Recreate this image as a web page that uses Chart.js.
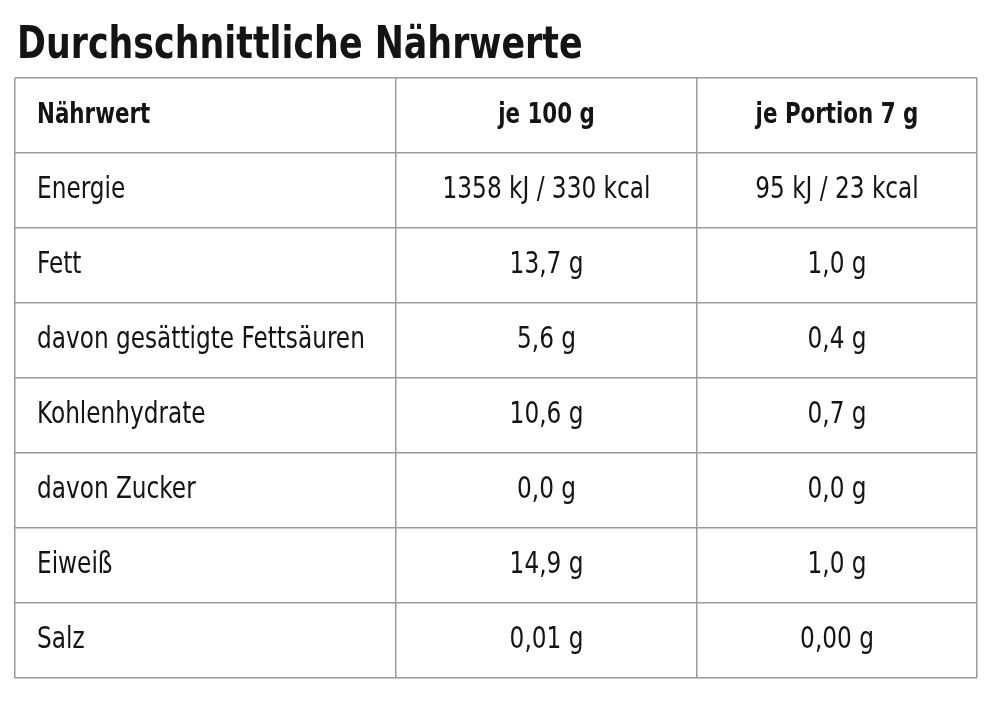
<!DOCTYPE html>
<html><head><meta charset="utf-8">
<script src="https://cdn.jsdelivr.net/npm/chart.js@4/dist/chart.umd.min.js"></script>
<style>html,body{margin:0;background:#fff}#w{width:1000px;height:708px}</style>
</head><body><div id="w"><canvas id="c"></canvas></div>
<script>
const title = "Durchschnittliche Nährwerte";
const headers = ["Nährwert", "je 100 g", "je Portion 7 g"];
const nutrients = ["Energie","Fett","davon gesättigte Fettsäuren","Kohlenhydrate","davon Zucker","Eiweiß","Salz"];
const per100 = ["1358 kJ / 330 kcal","13,7 g","5,6 g","10,6 g","0,0 g","14,9 g","0,01 g"];
const perPortion = ["95 kJ / 23 kcal","1,0 g","0,4 g","0,7 g","0,0 g","1,0 g","0,00 g"];
const colEdges = [0, 381, 682, 962];
const FONT = "'Liberation Sans Narrow','DejaVu Sans Condensed','Roboto Condensed',sans-serif";

const rows = [headers].concat(nutrients.map((n,i)=>[n, per100[i], perPortion[i]]));
const pts = [];
rows.forEach((r,ri)=>r.forEach((t,ci)=>{
  const x = ci===0 ? colEdges[0]+22 : (colEdges[ci]+colEdges[ci+1])/2;
  pts.push({x, y: ri+0.5, t, ci, bold: ri===0});
}));

function squeezed(ctx, text, x, y, sx){
  ctx.save();
  ctx.translate(x, y);
  ctx.scale(sx, 1);
  ctx.fillText(text, 0, 0);
  ctx.restore();
}

const textPlugin = {
  id:'txt',
  afterDatasetsDraw(chart){
    const ctx = chart.ctx;
    const meta = chart.getDatasetMeta(0);
    ctx.save();
    ctx.fillStyle = '#141414';
    ctx.textBaseline = 'middle';
    meta.data.forEach((el,i)=>{
      const p = pts[i];
      ctx.font = (p.bold?'bold 29px ':'30px ') + FONT;
      ctx.textAlign = p.ci===0 ? 'left' : 'center';
      squeezed(ctx, p.t, el.x, el.y, p.bold ? 0.82 : 0.86);
    });
    ctx.font = 'bold 44px ' + FONT;
    ctx.textAlign = 'left';
    ctx.textBaseline = 'alphabetic';
    squeezed(ctx, title, 17, 58, 0.88);
    ctx.restore();
  }
};

new Chart(document.getElementById('c'), {
  type:'scatter',
  data:{datasets:[{data:pts, pointRadius:0, pointHoverRadius:0}]},
  options:{
    responsive:true, maintainAspectRatio:false, animation:false,
    layout:{padding:{left:15,right:23,top:78,bottom:30}},
    plugins:{legend:{display:false},tooltip:{enabled:false}},
    events:[],
    scales:{
      x:{type:'linear',min:0,max:colEdges[3],
        afterBuildTicks(a){a.ticks = colEdges.map(v=>({value:v}));},
        ticks:{display:false}, grid:{color:'#9a9a9a',lineWidth:1.5,drawTicks:false},
        border:{display:false}},
      y:{type:'linear',min:0,max:rows.length,reverse:true,
        afterBuildTicks(a){a.ticks = rows.map((_,i)=>({value:i})).concat([{value:rows.length}]);},
        ticks:{display:false}, grid:{color:'#9a9a9a',lineWidth:1.5,drawTicks:false},
        border:{display:false}}
    }
  },
  plugins:[textPlugin]
});
</script></body></html>
